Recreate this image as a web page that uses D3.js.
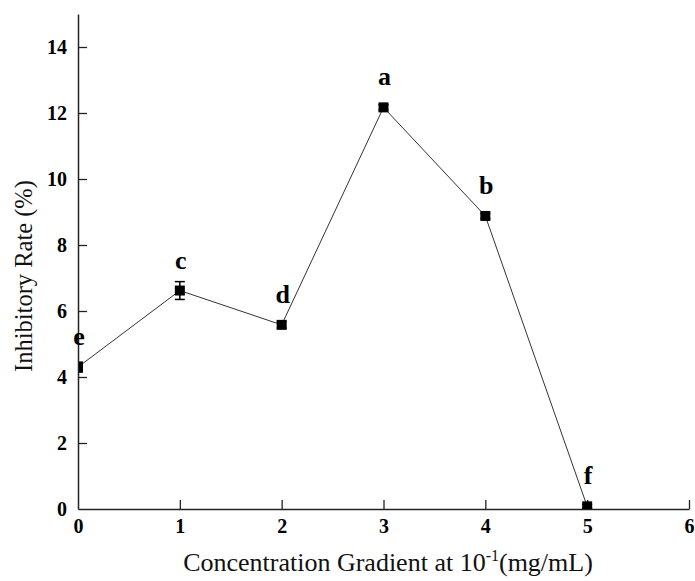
<!DOCTYPE html>
<html>
<head>
<meta charset="utf-8">
<script src="https://cdn.jsdelivr.net/npm/d3@7"></script>
<style>
  body { margin: 0; background: #fff; }
  svg { display: block; }
</style>
</head>
<body>
<div id="chart"></div>
<script>
// Data
const concentrations = [0, 1, 2, 3, 4, 5];
const rates = [4.3, 6.62, 5.58, 12.17, 8.88, 0.08];
const errors = [0.15, 0.27, 0.1, 0.08, 0.08, 0.05];
const letters = ["e", "c", "d", "a", "b", "f"];
const xTicks = [0, 1, 2, 3, 4, 5, 6];
const yTicks = [0, 2, 4, 6, 8, 10, 12, 14];

const width = 695;
const height = 581;

const svg = d3.select("#chart")
  .append("svg")
    .attr("width", width)
    .attr("height", height);

// Scales
const x = d3.scaleLinear().domain([0, 6]).range([78, 689]);
const y = d3.scaleLinear().domain([0, 15]).range([509, 14]);

const axisColor = "#222";
const serif = "'Liberation Serif', 'Times New Roman', serif";

// Clip marks to the plot area (the reference cuts the x=0 marker at the axis)
svg.append("clipPath").attr("id", "plot-clip")
  .append("rect")
    .attr("x", x(0) + 1)
    .attr("y", 0)
    .attr("width", width)
    .attr("height", y(0));

// X axis (ticks point inward)
const xAxis = svg.append("g")
  .attr("font-family", serif)
  .attr("transform", `translate(0, ${y(0)})`)
  .call(d3.axisBottom(x).tickValues(xTicks).tickFormat(d3.format("d"))
    .tickSizeInner(-9).tickSizeOuter(0));
xAxis.select(".domain").attr("stroke", axisColor).attr("stroke-width", 1.5);
xAxis.selectAll(".tick line").attr("stroke", axisColor).attr("stroke-width", 1.3)
  .filter(d => d === 0).remove();
xAxis.selectAll(".tick text")
  .attr("y", 10)
  .attr("dy", "0.71em")
  .style("font-family", serif)
  .style("font-weight", "bold")
  .style("font-size", "20px")
  .style("fill", "#000");

// Y axis
const yAxis = svg.append("g")
  .attr("font-family", serif)
  .attr("transform", `translate(${x(0)}, 0)`)
  .call(d3.axisLeft(y).tickValues(yTicks).tickFormat(d3.format("d"))
    .tickSizeInner(-9).tickSizeOuter(0));
yAxis.select(".domain").attr("stroke", axisColor).attr("stroke-width", 1.5);
yAxis.selectAll(".tick line").attr("stroke", axisColor).attr("stroke-width", 1.3)
  .filter(d => d === 0).remove();
yAxis.selectAll(".tick text")
  .attr("x", -11)
  .style("font-family", serif)
  .style("font-weight", "bold")
  .style("font-size", "20px")
  .style("fill", "#000");

// Axis titles
const xTitle = svg.append("text")
  .attr("x", 388)
  .attr("y", 571)
  .attr("text-anchor", "middle")
  .style("font-family", serif)
  .style("font-size", "26px")
  .style("fill", "#111");
xTitle.append("tspan").text("Concentration Gradient at 10");
xTitle.append("tspan").attr("dy", -10).style("font-size", "16px").text("-1");
xTitle.append("tspan").attr("dy", 10).text("(mg/mL)");

svg.append("text")
  .attr("transform", `translate(32, 276) rotate(-90)`)
  .attr("text-anchor", "middle")
  .style("font-family", serif)
  .style("font-size", "24.5px")
  .style("fill", "#111")
  .text("Inhibitory Rate (%)");

const points = concentrations.map((c, i) => ({ c, r: rates[i], e: errors[i], l: letters[i] }));

const plot = svg.append("g").attr("clip-path", "url(#plot-clip)");

// Connecting line
const line = d3.line().x(d => x(d.c)).y(d => y(d.r));
plot.append("path")
  .datum(points)
  .attr("d", line)
  .attr("fill", "none")
  .attr("stroke", "#333")
  .attr("stroke-width", 1);

// Error bars
const eb = plot.append("g").attr("stroke", "#000").attr("stroke-width", 1.5);
points.forEach(d => {
  eb.append("line")
    .attr("x1", x(d.c)).attr("x2", x(d.c))
    .attr("y1", y(d.r - d.e)).attr("y2", y(d.r + d.e));
  [d.r - d.e, d.r + d.e].forEach(v => {
    eb.append("line")
      .attr("x1", x(d.c) - 5).attr("x2", x(d.c) + 5)
      .attr("y1", y(v)).attr("y2", y(v));
  });
});

// Square markers
plot.selectAll("rect.marker")
  .data(points)
  .enter()
  .append("rect")
    .attr("class", "marker")
    .attr("x", d => x(d.c) - 5)
    .attr("y", d => y(d.r) - 5)
    .attr("width", 10)
    .attr("height", 10)
    .attr("fill", "#000");

// Significance letters
svg.selectAll("text.letter")
  .data(points)
  .enter()
  .append("text")
    .attr("class", "letter")
    .attr("x", d => x(d.c) + 1)
    .attr("y", d => y(d.r) - 22)
    .attr("text-anchor", "middle")
    .style("font-family", serif)
    .style("font-weight", "bold")
    .style("font-size", "26px")
    .style("fill", "#000")
    .text(d => d.l);
</script>
</body>
</html>
